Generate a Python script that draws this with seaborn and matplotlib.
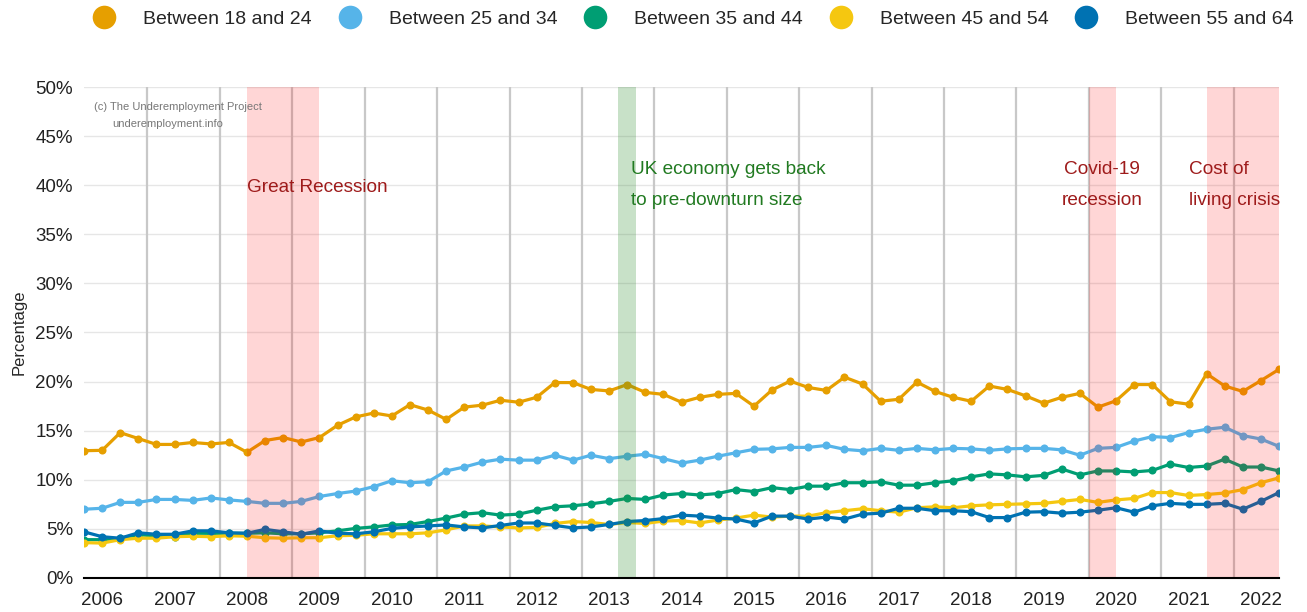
import numpy as np
import pandas as pd
import seaborn as sns
import matplotlib.pyplot as plt
from matplotlib.lines import Line2D

# quarterly underemployment rate (%) by age group, first point = left edge
age_18_24 = [12.96, 13.0, 14.8, 14.2, 13.6, 13.6, 13.8, 13.65, 13.8, 12.8, 14.0, 14.3,
             13.85, 14.3, 15.55, 16.4, 16.8, 16.5, 17.65, 17.1, 16.15, 17.4, 17.6, 18.1,
             17.9, 18.4, 19.9, 19.9, 19.2, 19.05, 19.7, 18.9, 18.7, 17.9, 18.4, 18.7,
             18.8, 17.5, 19.15, 20.05, 19.4, 19.1, 20.45, 19.75, 18.0, 18.2, 19.95, 19.0,
             18.4, 18.0, 19.55, 19.2, 18.55, 17.8, 18.4, 18.8, 17.4, 18.05, 19.7, 19.7,
             17.95, 17.7, 20.8, 19.55, 19.0, 20.1, 21.25]
age_25_34 = [7.0, 7.1, 7.7, 7.7, 8.0, 8.0, 7.9, 8.15, 7.95, 7.8, 7.6, 7.6,
             7.8, 8.3, 8.6, 8.85, 9.3, 9.9, 9.7, 9.8, 10.9, 11.3, 11.8, 12.1,
             12.0, 12.0, 12.5, 12.0, 12.5, 12.15, 12.4, 12.6, 12.15, 11.7, 12.0, 12.4,
             12.75, 13.1, 13.15, 13.3, 13.3, 13.5, 13.1, 12.95, 13.2, 13.0, 13.2, 13.05,
             13.2, 13.15, 13.0, 13.15, 13.2, 13.2, 13.05, 12.5, 13.2, 13.3, 13.95, 14.4,
             14.3, 14.8, 15.15, 15.35, 14.5, 14.15, 13.4]
age_35_44 = [3.9, 3.9, 4.05, 4.4, 4.3, 4.2, 4.55, 4.55, 4.55, 4.55, 4.6, 4.5,
             4.5, 4.6, 4.8, 5.05, 5.2, 5.4, 5.45, 5.75, 6.1, 6.5, 6.65, 6.4,
             6.5, 6.9, 7.25, 7.35, 7.55, 7.8, 8.1, 8.0, 8.45, 8.6, 8.45, 8.6,
             9.0, 8.8, 9.2, 9.0, 9.35, 9.35, 9.7, 9.7, 9.8, 9.45, 9.45, 9.7,
             9.9, 10.3, 10.6, 10.5, 10.3, 10.45, 11.1, 10.5, 10.9, 10.9, 10.8, 10.95,
             11.6, 11.25, 11.4, 12.1, 11.3, 11.3, 10.9]
age_45_54 = [3.6, 3.55, 3.9, 4.05, 4.05, 4.2, 4.25, 4.2, 4.3, 4.25, 4.1, 4.05,
             4.1, 4.1, 4.3, 4.35, 4.5, 4.5, 4.5, 4.6, 4.9, 5.3, 5.3, 5.2,
             5.1, 5.15, 5.55, 5.75, 5.65, 5.45, 5.65, 5.55, 5.8, 5.85, 5.6, 5.9,
             6.1, 6.4, 6.2, 6.3, 6.3, 6.65, 6.85, 7.05, 6.85, 6.7, 7.15, 7.25,
             7.15, 7.35, 7.45, 7.5, 7.55, 7.6, 7.8, 8.0, 7.7, 7.95, 8.1, 8.7,
             8.7, 8.4, 8.5, 8.65, 9.0, 9.7, 10.2]
age_55_64 = [4.7, 4.2, 4.05, 4.6, 4.45, 4.45, 4.8, 4.8, 4.6, 4.55, 4.95, 4.7,
             4.45, 4.8, 4.55, 4.5, 4.7, 5.05, 5.2, 5.3, 5.4, 5.2, 5.1, 5.35,
             5.6, 5.6, 5.35, 5.1, 5.2, 5.45, 5.75, 5.85, 6.05, 6.4, 6.3, 6.1,
             6.0, 5.6, 6.3, 6.3, 6.0, 6.2, 6.0, 6.5, 6.6, 7.1, 7.1, 6.85,
             6.85, 6.75, 6.15, 6.15, 6.7, 6.75, 6.6, 6.7, 6.9, 7.15, 6.7, 7.35,
             7.6, 7.5, 7.5, 7.6, 7.0, 7.8, 8.7]

groups = ["Between 18 and 24", "Between 25 and 34", "Between 35 and 44",
          "Between 45 and 54", "Between 55 and 64"]
colors = ["#E69F00", "#56B4E9", "#009E73", "#F5C710", "#0072B2"]
years = list(range(2006, 2023))

quarter = np.arange(len(age_18_24))
series = [age_18_24, age_25_34, age_35_44, age_45_54, age_55_64]
df = pd.concat([pd.DataFrame({"quarter": quarter, "value": v, "group": g})
                for g, v in zip(groups, series)], ignore_index=True)

sns.set_style("white")
plt.rcParams["font.family"] = ["Liberation Sans", "DejaVu Sans"]

fig = plt.figure(figsize=(13.07, 6.12), dpi=100)
ax = fig.add_axes([0.0643, 0.0556, 0.9143, 0.8022])

ax.yaxis.grid(True, color="#e6e6e6", lw=1, zorder=0)
for k in range(len(years) - 1):
    ax.axvline(3.5 + 4 * k, color="#c8c8c8", lw=1.6, zorder=1)

sns.lineplot(data=df, x="quarter", y="value", hue="group", palette=colors,
             hue_order=groups, marker="o", markersize=5.8, markeredgewidth=0,
             linewidth=2.3, legend=False, ax=ax, zorder=3)

# shaded periods
ax.axvspan(9, 13, color="#ff0000", alpha=0.16, lw=0, zorder=5)
ax.axvspan(29.5, 30.5, color="#2e8b2e", alpha=0.26, lw=0, zorder=5)
ax.axvspan(55.5, 57, color="#ff0000", alpha=0.16, lw=0, zorder=5)
ax.axvspan(62, 66, color="#ff0000", alpha=0.16, lw=0, zorder=5)

red = "#9e1b1b"
green = "#217a21"
fs = 13.7
ax.text(9.0, 39.8, "Great Recession", color=red, fontsize=fs, va="center", zorder=6)
ax.text(30.2, 41.6, "UK economy gets back", color=green, fontsize=fs, va="center", zorder=6)
ax.text(30.2, 38.4, "to pre-downturn size", color=green, fontsize=fs, va="center", zorder=6)
ax.text(54.1, 41.6, "Covid-19", color=red, fontsize=fs, va="center", zorder=6)
ax.text(54.0, 38.4, "recession", color=red, fontsize=fs, va="center", zorder=6)
ax.text(61.0, 41.6, "Cost of", color=red, fontsize=fs, va="center", zorder=6)
ax.text(61.0, 38.4, "living crisis", color=red, fontsize=fs, va="center", zorder=6)
ax.text(0.55, 48.0, "(c) The Underemployment Project", color="#777777", fontsize=8, va="center", zorder=6)
ax.text(1.55, 46.25, "underemployment.info", color="#777777", fontsize=8, va="center", zorder=6)

ax.set_xlim(0, len(quarter) - 1)
ax.set_ylim(0, 50)
ax.set_yticks(range(0, 51, 5))
ax.set_yticklabels([f"{v}%" for v in range(0, 51, 5)], fontsize=13.5, color="#222222")
xlabels = [""] * len(quarter)
for i, y in enumerate(years):
    xlabels[1 + 4 * i] = str(y)
ax.set_xticks(quarter)
ax.set_xticklabels(xlabels, fontsize=13.5, color="#222222")
ax.tick_params(axis="x", length=7, width=1.3, color="black", pad=3)
ax.tick_params(axis="y", length=0, pad=8)
ax.set_xlabel("")
ax.set_ylabel("Percentage", fontsize=12, labelpad=6)
for s in ["top", "right", "left"]:
    ax.spines[s].set_visible(False)
ax.spines["bottom"].set_color("black")
ax.spines["bottom"].set_linewidth(1.5)
ax.spines["bottom"].set_zorder(7)

handles = [Line2D([0], [0], marker="o", color="none", markerfacecolor=c,
                  markeredgewidth=0, markersize=17) for c in colors]
fig.legend(handles, groups, loc="center", bbox_to_anchor=(0.529, 0.969), ncol=5,
           frameon=False, fontsize=14, handlelength=1.6, handletextpad=1.2,
           columnspacing=1.15)

fig.savefig("out.png", dpi=100)
